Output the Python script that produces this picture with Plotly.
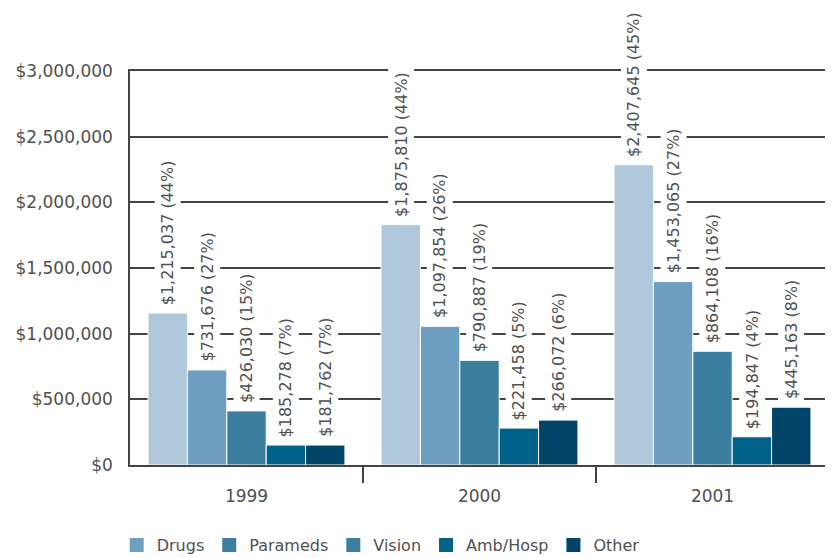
import plotly.graph_objects as go

years = ["1999", "2000", "2001"]
series = ["Drugs", "Parameds", "Vision", "Amb/Hosp", "Other"]

drugs = [1157000, 1830000, 2286000]
parameds = [724000, 1056000, 1397000]
vision = [412000, 797000, 866000]
amb_hosp = [152000, 281000, 215000]
other = [152000, 342000, 440000]

drugs_lbl = ["$1,215,037 (44%)", "$1,875,810 (44%)", "$2,407,645 (45%)"]
parameds_lbl = ["$731,676 (27%)", "$1,097,854 (26%)", "$1,453,065 (27%)"]
vision_lbl = ["$426,030 (15%)", "$790,887 (19%)", "$864,108 (16%)"]
amb_hosp_lbl = ["$185,278 (7%)", "$221,458 (5%)", "$194,847 (4%)"]
other_lbl = ["$181,762 (7%)", "$266,072 (6%)", "$445,163 (8%)"]

y_ticks = [0, 500000, 1000000, 1500000, 2000000, 2500000, 3000000]
y_tick_text = ["$0", "$500,000", "$1,000,000", "$1,500,000", "$2,000,000", "$2,500,000", "$3,000,000"]

values = [drugs, parameds, vision, amb_hosp, other]
labels = [drugs_lbl, parameds_lbl, vision_lbl, amb_hosp_lbl, other_lbl]
bar_colors = ["#b0c8dc", "#6f9fc0", "#3a7d9e", "#00628a", "#004468"]
legend_colors = ["#6f9fc0", "#3a7fa0", "#3a7fa0", "#00628a", "#004468"]

FONT = "DejaVu Sans"
TXT = "#505050"
LINE = "#444444"
bargap = 0.155

xpos = list(range(len(years)))
bounds = [p + 0.5 for p in xpos[:-1]]

fig = go.Figure()
for name, vals, col in zip(series, values, bar_colors):
    fig.add_trace(go.Bar(x=xpos, y=vals, name=name,
                         marker=dict(color=col, line=dict(color="white", width=1)),
                         showlegend=False))
for name, col in zip(series, legend_colors):
    fig.add_trace(go.Scatter(x=[None], y=[None], mode="markers", name=name,
                             marker=dict(symbol="square", size=14, color=col)))

n = len(series)
bw = (1 - bargap) / n
for j, (vals, lbls) in enumerate(zip(values, labels)):
    for i, (v, t) in enumerate(zip(vals, lbls)):
        fig.add_annotation(x=xpos[i] + (j - (n - 1) / 2) * bw, y=v, xref="x", yref="y", text=t,
                           textangle=-90, showarrow=False, yanchor="bottom", xanchor="center",
                           yshift=4, bgcolor="white", borderpad=3,
                           font=dict(family=FONT, size=16, color=TXT))

fig.update_layout(
    width=825, height=558,
    margin=dict(l=122, r=4, t=63, b=101),
    paper_bgcolor="white", plot_bgcolor="white",
    barmode="group", bargap=bargap, bargroupgap=0,
    font=dict(family=FONT, size=16, color=TXT),
    legend=dict(orientation="h", x=-0.019, xanchor="left", y=-0.203, yanchor="middle",
                font=dict(family=FONT, size=16, color=TXT), itemwidth=30),
    xaxis=dict(range=[-0.5, len(years) - 0.5], tickvals=xpos, ticktext=years, automargin=False,
               showline=True, linecolor=LINE, linewidth=1.5, mirror=True,
               ticks="", ticklabelstandoff=15, showgrid=False, zeroline=False,
               minor=dict(tickvals=bounds, ticks="outside", ticklen=16, tickcolor=LINE, tickwidth=1.5,
                          showgrid=False),
               tickfont=dict(family=FONT, size=17, color=TXT)),
    yaxis=dict(range=[0, 3000000], tickvals=y_ticks, ticktext=y_tick_text, showgrid=True,
               gridcolor=LINE, gridwidth=1.5, showline=True, linecolor=LINE, linewidth=1.5,
               mirror=True, ticks="", ticklabelstandoff=12, zeroline=False, automargin=False,
               tickfont=dict(family=FONT, size=17, color=TXT)),
)

fig.write_html("out.html")
